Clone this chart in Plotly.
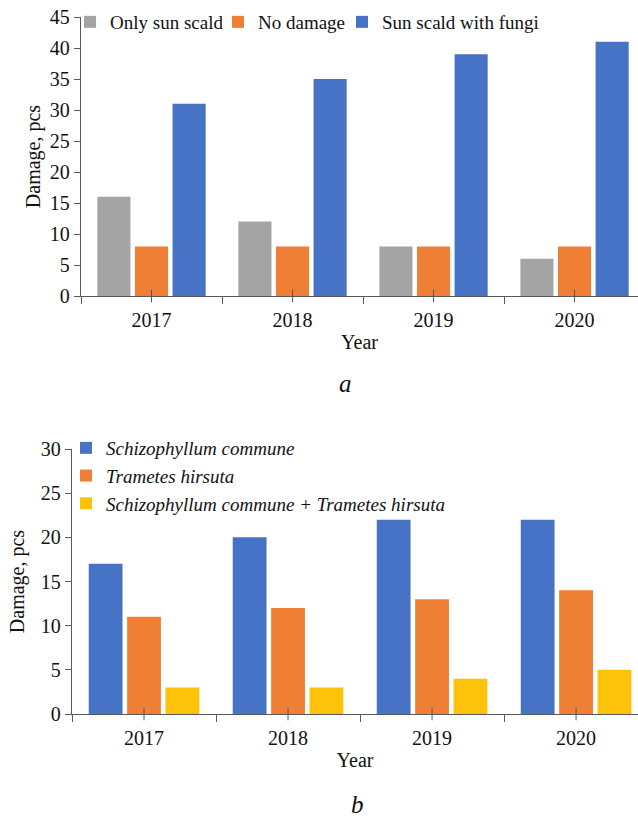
import plotly.graph_objects as go

years = ["2017", "2018", "2019", "2020"]

# Chart a
only_sun_scald = [16, 12, 8, 6]
no_damage = [8, 8, 8, 8]
sun_scald_fungi = [31, 35, 39, 41]

# Chart b
schizophyllum = [17, 20, 22, 22]
trametes = [11, 12, 13, 14]
both_fungi = [3, 3, 4, 5]

FONT = "Times New Roman, Liberation Serif, serif"
GRAY = "#a4a4a4"
ORANGE = "#ef7f35"
BLUE = "#4673c6"
YELLOW = "#fdc30a"
AXIS = "#595959"
TXT = "#111111"

fig = go.Figure()

def bar(name, y, color, xa, ya, legend, italic=False, lw=None):
    label = f"<i>{name}</i>" if italic else name
    fig.add_trace(go.Bar(x=years, y=y, name=label, marker=dict(color=color, line=dict(width=0)),
                         xaxis=xa, yaxis=ya, legend=legend, legendwidth=lw))

bar("Only sun scald", only_sun_scald, GRAY, "x", "y", "legend", lw=103)
bar("No damage", no_damage, ORANGE, "x", "y", "legend", lw=79)
bar("Sun scald with fungi", sun_scald_fungi, BLUE, "x", "y", "legend")

bar("Schizophyllum commune", schizophyllum, BLUE, "x2", "y2", "legend2", True)
bar("Trametes hirsuta", trametes, ORANGE, "x2", "y2", "legend2", True)
bar("Schizophyllum commune + Trametes hirsuta", both_fungi, YELLOW, "x2", "y2", "legend2", True)

# small centre ticks on category axes
for xa, ya in (("x", "y"), ("x2", "y2")):
    fig.add_trace(go.Scatter(x=years, y=[0] * len(years), mode="markers", xaxis=xa, yaxis=ya,
                             marker=dict(symbol="line-ns", size=9, line=dict(width=1, color=AXIS)),
                             showlegend=False, hoverinfo="skip", cliponaxis=False))

W, H = 638, 819
tickfont = dict(family=FONT, size=20, color=TXT)
titlefont = dict(family=FONT, size=20, color=TXT)

def xaxis(domain_left, rng, anchor):
    return dict(domain=[domain_left, 1], range=rng, anchor=anchor, type="category",
                showline=True, linecolor=AXIS, linewidth=1.3, ticks="outside", tickson="boundaries",
                ticklen=7, tickcolor=AXIS, tickfont=tickfont, showgrid=False, zeroline=False,
                ticklabelstandoff=6, automargin=False,
                title=dict(text="Year", font=titlefont, standoff=4))

def yaxis(domain, rng, dtick, anchor, standoff):
    return dict(domain=domain, range=rng, dtick=dtick, anchor=anchor, showline=True, linecolor=AXIS,
                linewidth=1.3, ticks="outside", ticklen=6, tickcolor=AXIS, tickfont=tickfont,
                showgrid=False, zeroline=False, automargin=False,
                title=dict(text="Damage, pcs", font=titlefont, standoff=standoff))

fig.update_layout(
    width=W, height=H, margin=dict(l=0, r=0, t=0, b=0, autoexpand=False),
    paper_bgcolor="white", plot_bgcolor="white",
    barmode="group", bargap=0.2, bargroupgap=0.12,
    xaxis=xaxis(81 / W, [-0.5, 3.45], "y"),
    yaxis=yaxis([1 - 296 / H, 1 - 17 / H], [0, 45], 5, "x", 3),
    xaxis2=xaxis(72 / W, [-0.5, 3.43], "y2"),
    yaxis2=yaxis([1 - 714 / H, 1 - 449 / H], [0, 30], 5, "x2", 10),
    legend=dict(orientation="h", x=70 / W, y=1 - 3 / H, xanchor="left", yanchor="top",
                font=dict(family=FONT, size=19, color=TXT), itemwidth=30,
                bgcolor="rgba(0,0,0,0)"),
    legend2=dict(orientation="v", x=66 / W, y=1 - 429 / H, xanchor="left", yanchor="top",
                 font=dict(family=FONT, size=19, color=TXT), itemwidth=30,
                 bgcolor="rgba(0,0,0,0)"),
    annotations=[
        dict(text="<i>a</i>", x=345 / W, y=1 - 383 / H, xref="paper", yref="paper",
             xanchor="center", yanchor="middle",
             showarrow=False, font=dict(family=FONT, size=25, color=TXT)),
        dict(text="<i>b</i>", x=357 / W, y=1 - 804 / H, xref="paper", yref="paper",
             xanchor="center", yanchor="middle",
             showarrow=False, font=dict(family=FONT, size=25, color=TXT)),
    ],
)

fig.write_html("out.html")
